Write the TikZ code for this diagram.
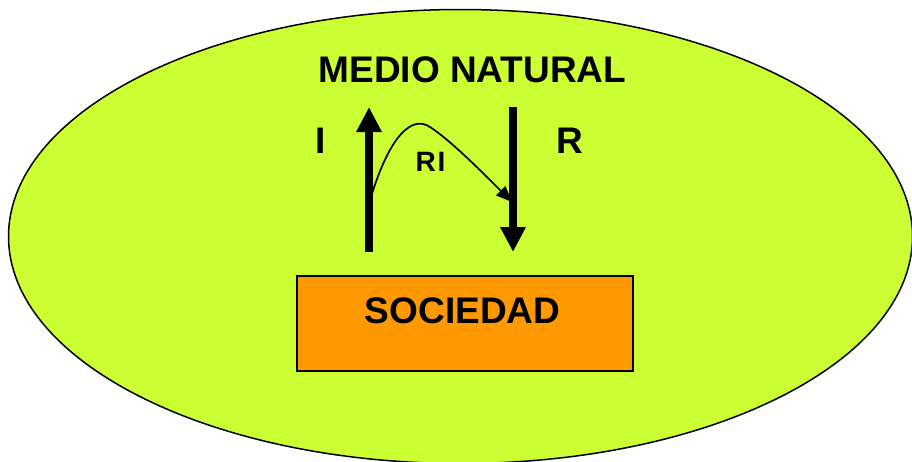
\documentclass[tikz,border=0pt]{standalone}
\usepackage{fontspec}
\setmainfont{Liberation Sans}
\usetikzlibrary{arrows.meta,shapes.geometric}
\definecolor{lime}{HTML}{CCFF33}
\definecolor{orng}{HTML}{FF9900}
\tikzset{
  lbl/.style={inner sep=0pt, anchor=base, font=\fontsize{37}{40}\selectfont\bfseries},
  smalllbl/.style={inner sep=0pt, anchor=base, font=\fontsize{28}{30}\selectfont\bfseries},
  bigarrow/.style={line width=7.5pt, -{Triangle[length=25pt,width=24pt]}},
  thinarrow/.style={line width=1.7pt, -{Triangle[length=16pt,width=13pt]}},
}
\begin{document}
\begin{tikzpicture}[x=1pt,y=-1pt]
\useasboundingbox (0,0) rectangle (912,461);
\clip (0,0) rectangle (912,461);
\node (nature) [ellipse, fill=lime, draw=black, line width=1.5pt, minimum width=904pt, minimum height=454pt, inner sep=0pt] at (460.5,236.5) {};
\node (soc) [draw=black, line width=1.8pt, fill=orng, minimum width=336pt, minimum height=95pt, inner sep=0pt] at (465,323.5) {};
\node (soctext) [lbl] at (462.5,323) {SOCIEDAD};
\node (mn) [lbl] at (472.5,82) {MEDIO NATURAL};
\node (i) [lbl] at (321,153) {I};
\node (r) [lbl] at (569.5,153) {R};
\node (ri) [smalllbl] at (430.5,171) {R\kern2pt I};
\coordinate (ibot) at (369,252);
\coordinate (itop) at (369,107);
\coordinate (rtop) at (513,107);
\coordinate (rbot) at (513,252);
\coordinate (ristart) at (371,197);
\coordinate (riend) at (512,202);
\draw[bigarrow] (ibot) -- (itop);
\draw[bigarrow] (rtop) -- (rbot);
\draw[thinarrow] (ristart) .. controls (390,135) and (412,115) .. (430,127) .. controls (450,140) and (480,170) .. (riend);
\end{tikzpicture}
\end{document}
